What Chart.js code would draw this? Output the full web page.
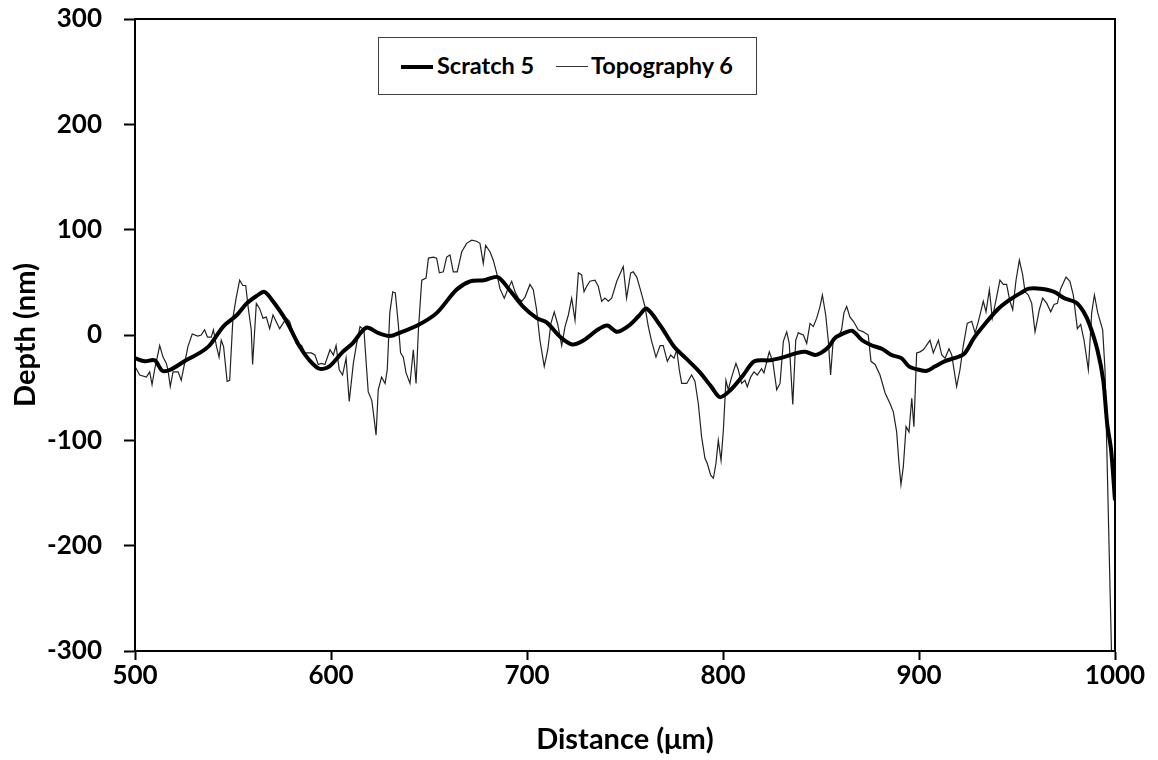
<!DOCTYPE html>
<html>
<head>
<meta charset="utf-8">
<script src="https://cdn.jsdelivr.net/npm/chart.js@4.4.1/dist/chart.umd.min.js"></script>
<style>
    body { margin: 0; background: #fff; }
    #wrap { position: relative; width: 1158px; height: 760px; }
    #legend {
        position: absolute; left: 378px; top: 37px; width: 379px; height: 58px;
        box-sizing: border-box; border: 1.5px solid #404040; background: #fff;
        font-family: Lato, "Open Sans", sans-serif; font-weight: bold; font-size: 23.5px; color: #000;
    }
    #legend .swatch { position: absolute; top: 28px; width: 32px; background: #000; }
    #legend .label { position: absolute; top: 13px; line-height: 28px; }
</style>
</head>
<body>
<div id="wrap">
    <canvas id="chart" width="1158" height="760"></canvas>
    <div id="legend"></div>
</div>
<script>
// series names
const seriesNames = ['Scratch 5', 'Topography 6']

// Scratch 5 (thick line), distance in um / depth in nm
const scratchX = [500, 505, 510, 514, 518, 526, 533, 538, 545, 552, 557, 562, 566, 570, 577, 584, 589, 594, 599, 606,
    611, 618, 624, 630, 635, 645, 654, 664, 671, 678, 685, 691, 698, 705, 710, 717, 723, 729, 736, 741,
    746, 752, 757, 761, 768, 775, 781, 788, 794, 798.5, 804, 810, 816, 824, 831, 838, 842, 847, 850, 854,
    857, 862, 866, 871, 876, 881, 886, 891, 895, 900, 904, 908, 913, 918, 923, 928, 933, 940, 946, 952,
    956, 962, 969, 974, 980, 984, 987, 991, 994, 996, 998, 1000]
const scratchY = [-22, -25, -24, -34, -33, -24, -17, -10, 8, 19, 30, 37, 41, 33, 14, -11, -24, -32, -30, -16,
    -8, 7, 2, -1, 2, 10, 21, 43, 51, 52, 55, 43, 27, 16, 12, -2, -9, -5, 5, 9,
    3, 9, 18, 25, 9, -11, -22, -35, -49, -59, -52, -39, -25, -24, -21, -17, -16, -19, -17, -11,
    -3, 2, 4, -5, -10, -13, -19, -22, -30, -33, -34, -30, -25, -22, -18, -3, 9, 24, 33, 40,
    44, 44, 41, 35, 31, 22, 10, -14, -43, -84, -109, -157]

// Topography 6 (thin line)
const topoX = [500, 502.4, 505.8, 507.5, 508.7, 510, 512.6, 514.3, 516, 516.8, 518, 519.4, 522, 523.6, 525.3, 527, 529.2, 532, 533.8, 535.5,
    537, 538.9, 540, 541.5, 542.9, 544, 545.2, 547, 548.3, 550, 551.7, 553.4, 555, 556.5, 557.7, 559.3, 560, 561.9, 563.6, 565.3,
    567, 568.7, 570.4, 573.8, 577.2, 578.9, 582.3, 585, 586.7, 588.4, 590, 591.8, 593.5, 595.2, 596.9, 599.5, 601.2, 602.6, 604.2, 605.9,
    607.7, 609.3, 611.4, 613.1, 614.8, 616.8, 618.2, 619, 620.8, 621.9, 623, 624.1, 625.8, 627.6, 628.7, 630, 631.5, 632.8, 634.3, 635.5,
    636.9, 638.3, 640.3, 642, 643.4, 644.6, 646.3, 648.5, 649.7, 652.2, 653.9, 655.3, 657.3, 659, 660.7, 662.4, 664.4, 666.7, 669.2, 671.8,
    674.3, 676, 677.7, 678.9, 681.1, 682.8, 684.5, 686.2, 688.4, 690.1, 692.2, 693.9, 695.6, 697.3, 699, 701.5, 703.2, 704.9, 706.6, 708.8,
    710.6, 712.2, 713.9, 715.7, 717.7, 719.4, 721.1, 722.8, 724.5, 726.2, 727.9, 729.1, 730.4, 732.1, 734.7, 736.4, 738.1, 739.8, 741.5, 743.2,
    745.8, 749.1, 750.8, 752.9, 754.2, 756, 757.7, 760.2, 761.9, 763.6, 765.8, 767.9, 769.5, 771.6, 773.3, 775, 776.4, 777.7, 778.9, 781.5,
    784, 785.7, 787.4, 789.1, 790.8, 792, 793.7, 795.1, 796.4, 797.6, 799, 800.2, 801.5, 802.7, 804.4, 806.6, 807.8, 809.5, 811.2, 812.4,
    814.1, 815.8, 817.5, 819.7, 820.9, 823.6, 825.4, 827.4, 829.1, 830.8, 832.5, 833.8, 835.6, 837.1, 838.4, 841, 842.7, 844.4, 846.1, 847.8,
    849.5, 850.7, 852.4, 853.7, 854.9, 856.3, 858.8, 860.5, 861.7, 863.1, 864.8, 866.5, 869, 871.6, 874.1, 875.5, 877.6, 880.1, 882.7, 885.2,
    886.9, 888.6, 889.8, 890.8, 892, 893.4, 894.9, 896.3, 897.4, 898.8, 900.5, 902.2, 903.4, 905.6, 907.3, 909.9, 911.6, 913.3, 915.3, 916.7,
    919.2, 920.9, 922.6, 924.6, 926.9, 928.6, 930.3, 932.8, 934.2, 935.9, 937.4, 939.6, 941.3, 943, 944.7, 946.4, 947.8, 949.5, 951.2, 952.9,
    954.1, 955.8, 957.5, 959.2, 961.4, 963.1, 965.2, 967.2, 968.9, 970.6, 972.3, 975, 977, 978.7, 980.8, 982.5, 984.2, 986.4, 988.1, 989.5,
    991.2, 993.7, 994.9, 995.8, 998.2]
const topoY = [-30, -38, -40, -35, -47, -33, -10, -21, -27, -33, -49, -35, -35, -43, -27, -11, 1, -1, 0, 5,
    -2, -2, 5, -10, -21, -5, -11, -44, -43, 17, 36, 52, 47, 47, 27, 5, -28, 30, 25, 16,
    17, 6, 19, 6, 16, 13, -8, -10, -17, -17, -17, -19, -28, -27, -28, -14, -19, -10, -33, -38,
    -22, -63, -27, -8, 8, 5, -33, -54, -62, -78, -95, -52, -40, -46, -33, 21, 41, 40, 11, -17,
    -21, -36, -46, -14, -46, 5, 52, 54, 73, 74, 73, 59, 60, 74, 76, 60, 60, 79, 87, 90,
    89, 87, 68, 85, 79, 71, 59, 44, 35, 43, 51, 41, 35, 32, 36, 48, 43, 24, -5, -30,
    -14, 11, 22, 10, -10, 8, 19, 35, 14, 59, 57, 41, 46, 51, 52, 46, 32, 35, 32, 35,
    51, 65, 35, 59, 60, 55, 44, 27, 8, -6, -21, -10, -10, -25, -19, -22, -14, -33, -46, -46,
    -38, -44, -65, -97, -117, -122, -133, -136, -122, -100, -119, -90, -43, -52, -40, -27, -33, -46, -43, -49,
    -40, -35, -38, -32, -36, -16, -25, -52, -46, -6, 3, -8, -66, -5, 2, 0, -8, 11, 8, 16,
    27, 38, 19, -5, -38, -3, -2, 5, 21, 27, 17, 13, 5, 3, 0, -25, -28, -38, -55, -65,
    -73, -92, -122, -142, -125, -87, -92, -60, -87, -17, -16, -14, -11, -5, -17, -5, -19, -22, -13, -19,
    -49, -33, -10, 11, 13, 2, 13, 32, 22, 43, 16, 36, 52, 48, 48, 32, 24, 52, 71, 57,
    41, 38, 30, 3, 24, 35, 30, 22, 29, 30, 44, 55, 51, 38, 6, 10, -5, -33, 21, 38,
    21, 5, -33, -106, -300]

// axis ticks
const xTicks = [500, 600, 700, 800, 900, 1000]
const yTicks = [-300, -200, -100, 0, 100, 200, 300]

const fontFamily = 'Lato, "Open Sans", sans-serif'

function toPoints(xs, ys) {
    return xs.map(function (x, i) { return { x: x, y: ys[i] } })
}

// box around the plot area
const frame = {
    id: 'frame',
    afterDraw(chart) {
        const a = chart.chartArea
        const c = chart.ctx
        c.save()
        c.strokeStyle = '#000'
        c.lineWidth = 2
        c.strokeRect(a.left, a.top, a.right - a.left, a.bottom - a.top)
        c.restore()
    }
}

function buildLegend() {
    const el = document.getElementById('legend')
    el.innerHTML = `
        <div class="swatch" style="left:22px;height:4px;margin-top:-1px"></div>
        <div class="label" style="left:58px">${seriesNames[0]}</div>
        <div class="swatch" style="left:177px;height:1px;background:#333"></div>
        <div class="label" style="left:212px">${seriesNames[1]}</div>
    `
}

var ctx = document.getElementById('chart').getContext('2d');
var chart = new Chart(ctx, {
    type: 'line',
    data: {
        datasets: [{
            label: seriesNames[0],
            data: toPoints(scratchX, scratchY),
            borderColor: '#000',
            borderWidth: 4,
            pointRadius: 0,
            tension: 0.3,
            fill: false
        }, {
            label: seriesNames[1],
            data: toPoints(topoX, topoY),
            borderColor: '#222',
            borderWidth: 1.2,
            pointRadius: 0,
            tension: 0,
            fill: false
        }]
    },
    options: {
        responsive: false,
        animation: false,
        layout: { padding: { top: 19, right: 43, left: 0, bottom: 0 } },
        plugins: {
            legend: { display: false },
            tooltip: { enabled: false }
        },
        scales: {
            x: {
                type: 'linear',
                min: 500,
                max: 1000,
                afterBuildTicks: function (s) { s.ticks = xTicks.map(function (v) { return { value: v } }) },
                afterFit: function (s) { s.height = 109 },
                ticks: {
                    color: '#000', padding: 0, maxRotation: 0,
                    font: { family: fontFamily, size: 26, weight: 'bold' },
                    callback: function (v) { return String(v) }
                },
                grid: { drawOnChartArea: false, tickLength: 9, tickWidth: 2, color: '#000' },
                border: { color: '#000', width: 2 },
                title: {
                    display: true, text: 'Distance (μm)', color: '#000',
                    font: { family: fontFamily, size: 29, weight: 'bold' },
                    padding: { top: 0, bottom: 3 }
                }
            },
            y: {
                min: -300,
                max: 300,
                afterBuildTicks: function (s) { s.ticks = yTicks.map(function (v) { return { value: v } }) },
                afterFit: function (s) {
                    s.width = 135
                    // labels overhang is covered by the layout padding
                    s.paddingTop = 0
                    s.paddingBottom = 0
                },
                ticks: {
                    color: '#000', padding: 22,
                    font: { family: fontFamily, size: 26, weight: 'bold' },
                    callback: function (v) { return String(v) }
                },
                grid: { drawOnChartArea: false, tickLength: 11, tickWidth: 2, color: '#000' },
                border: { color: '#000', width: 2 },
                title: {
                    display: true, text: 'Depth (nm)', color: '#000',
                    font: { family: fontFamily, size: 29, weight: 'bold' },
                    padding: { top: 8, bottom: 0 }
                }
            }
        }
    },
    plugins: [frame]
});

buildLegend()
</script>
</body>
</html>
